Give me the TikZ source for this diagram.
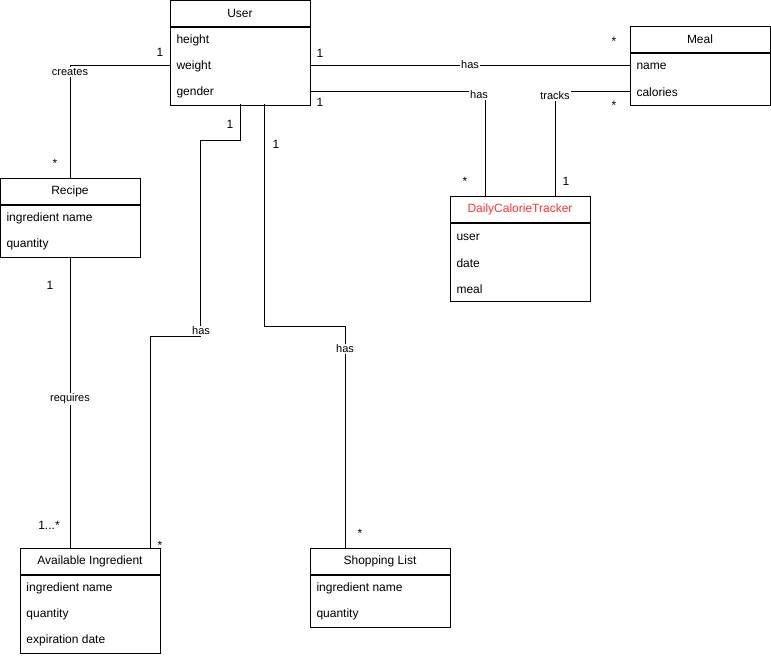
\documentclass[tikz,border=0pt]{standalone}
\usepackage{fontspec}
\setmainfont{Liberation Sans}
\usetikzlibrary{positioning}
\definecolor{trackred}{HTML}{FF3333}

\begin{document}
\begin{tikzpicture}[x=1pt,y=-1pt,line width=1pt,
  head/.style={draw,minimum width=140pt,minimum height=26pt,inner sep=0pt,font=\fontsize{12}{14}\selectfont},
  body/.style={draw,minimum width=140pt,inner sep=0pt,anchor=north},
  attr/.style={anchor=west,inner sep=6pt,yshift=-1.5pt,font=\fontsize{12}{14}\selectfont},
  rel/.style={fill=white,inner sep=1pt,font=\fontsize{11}{13}\selectfont},
  mult/.style={anchor=base,inner sep=0pt,font=\fontsize{12}{14}\selectfont}]
\useasboundingbox (0,0) rectangle (771,656);

% classes
\node[head] (user) at (240,13) {User};
\node[body,minimum height=78pt] (userb) at (user.south) {};
\node[attr] (uheight) at (170,39) {height};
\node[attr] (uweight) at (170,65) {weight};
\node[attr] (ugender) at (170,91) {gender};

\node[head] (meal) at (700,39) {Meal};
\node[body,minimum height=52pt] (mealb) at (meal.south) {};
\node[attr] (mname) at (630,65) {name};
\node[attr] (mcal) at (630,91) {calories};

\node[head,text=trackred] (dct) at (520,209) {DailyCalorieTracker};
\node[body,minimum height=78pt] (dctb) at (dct.south) {};
\node[attr] (duser) at (450,236) {user};
\node[attr] (ddate) at (450,262) {date};
\node[attr] (dmeal) at (450,288) {meal};

\node[head] (recipe) at (70,191) {Recipe};
\node[body,minimum height=52pt] (recipeb) at (recipe.south) {};
\node[attr] (rname) at (0,217) {ingredient name};
\node[attr] (rqty) at (0,243) {quantity};

\node[head] (avail) at (90,561) {Available Ingredient};
\node[body,minimum height=78pt] (availb) at (avail.south) {};
\node[attr] (aname) at (20,587) {ingredient name};
\node[attr] (aqty) at (20,613) {quantity};
\node[attr] (aexp) at (20,639) {expiration date};

\node[head] (shop) at (380,561) {Shopping List};
\node[body,minimum height=52pt] (shopb) at (shop.south) {};
\node[attr] (sname) at (310,587) {ingredient name};
\node[attr] (sqty) at (310,613) {quantity};

% connector ends
\coordinate (dcta) at (485,196); \coordinate (dctc) at (555,196);
\coordinate (ua) at (240,104); \coordinate (ub) at (264,104);
\coordinate (aia) at (150,548); \coordinate (sla) at (345,548);
\coordinate (uwt) at (170,65); \coordinate (ugd) at (310,91);
\coordinate (mnm) at (630,65); \coordinate (mcl) at (630,91);

% associations
\draw (uwt) -| (recipe.north);
\node[rel] (lcreates) at (70,72) {creates};
\draw (userb.east |- uwt) -- (mnm);
\node[rel] (lhasmeal) at (470,65) {has};
\draw (ugd) -| (dcta);
\node[rel] (lhasdct) at (479,95) {has};
\draw (mcl) -| (dctc);
\node[rel] (ltracks) at (555,96) {tracks};
\draw (ua) -- (240,140) -- (200,140) -- (200,336) -- (150,336) -- (aia);
\node[rel] (lhasavail) at (201,331) {has};
\draw (ub) -- (264,326) -- (345,326) -- (sla);
\node[rel] (lhasshop) at (345,349) {has};
\draw (recipeb.south) -- (avail.north -| recipeb.south);
\node[rel] (lrequires) at (70,399) {requires};

% multiplicities
\node[mult] (m1) at (160,56) {1};
\node[mult] (m2) at (55,167) {*};
\node[mult] (m3) at (320,57) {1};
\node[mult] (m4) at (614,45) {*};
\node[mult] (m5) at (320,106) {1};
\node[mult] (m6) at (465,185) {*};
\node[mult] (m7) at (566,185) {1};
\node[mult] (m8) at (614,109) {*};
\node[mult] (m9) at (230,128) {1};
\node[mult] (m10) at (276,148) {1};
\node[mult] (m11) at (160,549) {*};
\node[mult] (m12) at (360,537) {*};
\node[mult] (m13) at (50,289) {1};
\node[mult] (m14) at (49,529) {1...*};
\end{tikzpicture}
\end{document}
